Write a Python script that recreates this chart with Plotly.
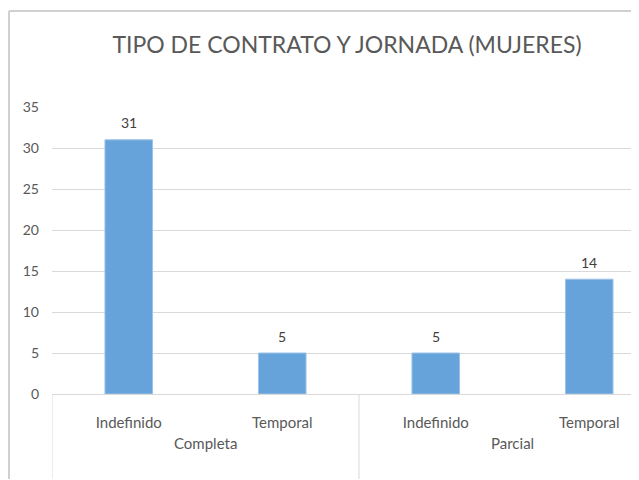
import plotly.graph_objects as go

# Data
groups = ["Completa", "Parcial"]
categories = ["Indefinido", "Temporal", "Indefinido", "Temporal"]
group_of = ["Completa", "Completa", "Parcial", "Parcial"]
values = [31, 5, 5, 14]
y_ticks = [0, 5, 10, 15, 20, 25, 30, 35]

x_pos = list(range(len(categories)))

OFF = 8  # page body margin
W, H = 639 - OFF, 480 - OFF
ml, mr, mt, mb = 52 - OFF, 0, 107 - OFF, 480 - 394
pw, ph = W - ml - mr, H - mt - mb
unit = 153.5
x0 = -0.5
x1 = x0 + pw / unit
FONT = "Lato, Open Sans, sans-serif"


def px2paperx(px):
    return (px - OFF - ml) / pw


def px2papery(py):
    return 1 - (py - OFF - mt) / ph


fig = go.Figure()
fig.add_trace(go.Bar(
    x=x_pos, y=values, width=0.31,
    marker=dict(color="#66A3DA", line=dict(color="#9DC3E8", width=1)),
    hoverinfo="y",
))

shapes = []
border = dict(color="#D0D0D0", width=2)
# chart outer border: left and top edges (right/bottom fall outside the view)
shapes.append(dict(type="line", xref="paper", yref="paper",
                   x0=px2paperx(9), x1=px2paperx(9), y0=px2papery(479), y1=px2papery(11),
                   line=border))
shapes.append(dict(type="line", xref="paper", yref="paper",
                   x0=px2paperx(9), x1=1.0, y0=px2papery(11), y1=px2papery(11),
                   line=border))
for b in [-0.5, 1.5]:
    shapes.append(dict(type="line", xref="x", yref="paper", x0=b, x1=b,
                       y0=0, y1=px2papery(479), line=dict(color="#D9D9D9", width=1)))

annotations = []
for xi, v in zip(x_pos, values):
    annotations.append(dict(x=xi, y=v, xref="x", yref="y", text=str(v), showarrow=False,
                            yshift=17, font=dict(family=FONT, size=14, color="#404040")))
for gi, g in enumerate(groups):
    annotations.append(dict(x=gi * 2 + 0.5, y=px2papery(443), xref="x", yref="paper",
                            xanchor="center", yanchor="middle",
                            text=g, showarrow=False,
                            font=dict(family=FONT, size=15, color="#595959")))

fig.update_layout(
    width=W, height=H,
    margin=dict(l=ml, r=mr, t=mt, b=mb, autoexpand=False),
    paper_bgcolor="white", plot_bgcolor="white",
    showlegend=False,
    title=dict(text="TIPO DE CONTRATO Y JORNADA (MUJERES)", x=(347 - OFF) / W, xanchor="center",
               y=1 - (45 - OFF) / H, yanchor="middle",
               font=dict(family=FONT, size=23, color="#595959")),
    xaxis=dict(range=[x0, x1], tickvals=x_pos, ticktext=categories,
               showgrid=False, zeroline=False, showline=False, ticks="",
               ticklabelstandoff=18,
               tickfont=dict(family=FONT, size=15, color="#595959")),
    yaxis=dict(range=[0, 35], tickvals=y_ticks, showgrid=True, gridcolor="#D9D9D9",
               gridwidth=1, zeroline=True, zerolinecolor="#D9D9D9", zerolinewidth=1,
               showline=False, ticks="", ticklabelstandoff=12,
               tickfont=dict(family=FONT, size=14, color="#595959")),
    shapes=shapes, annotations=annotations,
)

fig.write_html("out.html")
